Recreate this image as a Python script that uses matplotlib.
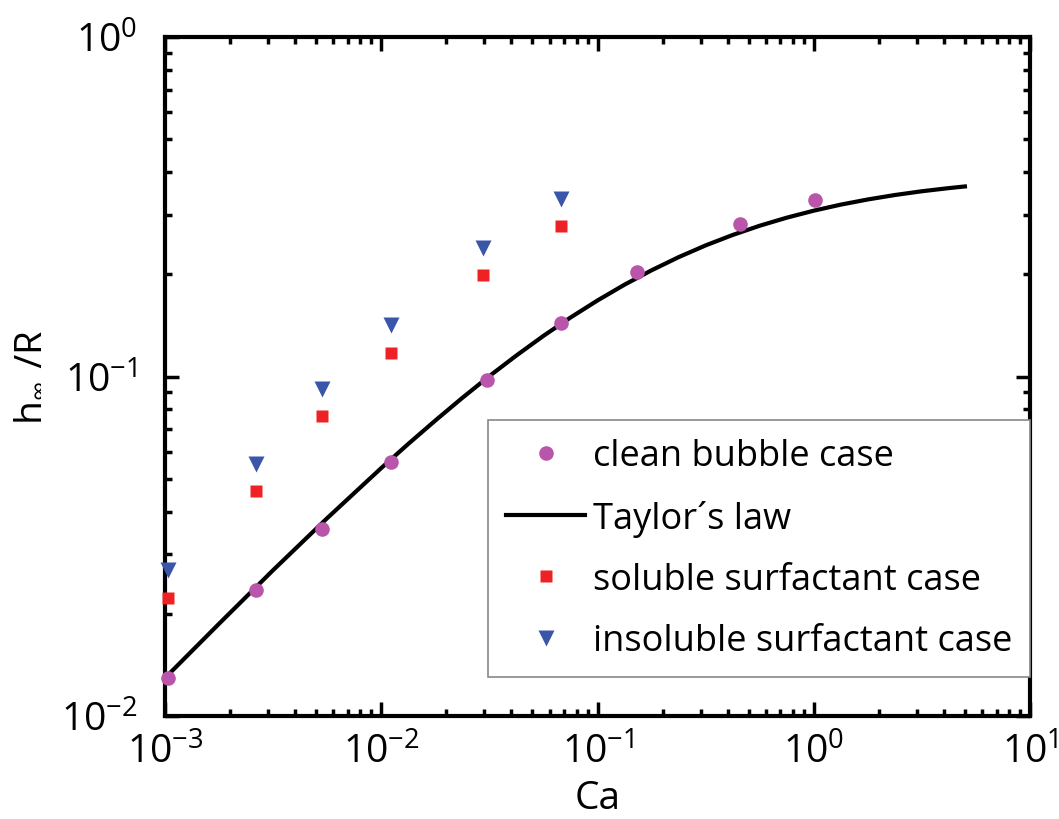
import matplotlib
matplotlib.use("Agg")
import matplotlib.pyplot as plt
from matplotlib.ticker import LogLocator, FixedLocator, NullFormatter

plt.rcParams['font.family'] = ['Open Sans', 'DejaVu Sans']
plt.rcParams['mathtext.fontset'] = 'custom'
plt.rcParams['mathtext.rm'] = 'Open Sans'
plt.rcParams['mathtext.it'] = 'Open Sans'
plt.rcParams['mathtext.bf'] = 'Open Sans'

# clean bubble case
ca_clean = [1.03e-3, 2.63e-3, 5.3e-3, 1.11e-2, 3.08e-2, 6.78e-2, 0.152, 0.456, 1.01]
h_clean = [0.0129, 0.0235, 0.0356, 0.056, 0.0977, 0.144, 0.203, 0.281, 0.331]

# soluble surfactant case
ca_sol = [1.03e-3, 2.63e-3, 5.3e-3, 1.11e-2, 2.95e-2, 6.78e-2]
h_sol = [0.0223, 0.046, 0.0765, 0.117, 0.199, 0.278]

# insoluble surfactant case
ca_insol = [1.03e-3, 2.63e-3, 5.3e-3, 1.11e-2, 2.95e-2, 6.78e-2]
h_insol = [0.0269, 0.0552, 0.0919, 0.142, 0.239, 0.333]

# Taylor's law curve
ca_taylor = [1.0e-3, 1.78e-3, 3.16e-3, 5.62e-3, 1.0e-2, 1.3335e-2, 1.78e-2, 2.3714e-2,
             3.16e-2, 4.217e-2, 5.62e-2, 7.4989e-2, 0.1, 0.13335, 0.178, 0.23714,
             0.316, 0.4217, 0.562, 0.74989, 1.0, 1.33352, 1.78, 2.37137, 3.16, 4.217, 5.0]
h_taylor = [0.01294, 0.01871, 0.02688, 0.03825, 0.05374, 0.06331, 0.07422, 0.08652,
            0.10023, 0.11532, 0.13169, 0.14916, 0.16749, 0.18641, 0.20558, 0.22464,
            0.24326, 0.26113, 0.27798, 0.29362, 0.30791, 0.32081, 0.33230, 0.34241,
            0.35124, 0.35888, 0.36288]

legend_labels = ['clean bubble case', 'Taylor\u00b4s law', 'soluble surfactant case',
                 'insoluble surfactant case']

fig = plt.figure(figsize=(10.59, 8.2), dpi=100)
ax = fig.add_axes([165/1059, 1-717/820, (1030-165)/1059, (717-38)/820])

ax.set_xscale('log')
ax.set_yscale('log')
ax.set_xlim(1e-3, 1e1)
ax.set_ylim(1e-2, 1e0)

ax.plot(ca_clean, h_clean, 'o', color='#B955AA', ms=10.5, mec='none',
        label=legend_labels[0], clip_on=False, zorder=4)
ax.plot(ca_taylor, h_taylor, '-', color='black', lw=3, label=legend_labels[1],
        zorder=3, solid_joinstyle='round')
ax.plot(ca_sol, h_sol, 's', color='#EE2224', ms=9, mec='none',
        label=legend_labels[2], clip_on=False, zorder=4)
ax.plot(ca_insol, h_insol, 'v', color='#3A56AA', ms=11, mec='none',
        label=legend_labels[3], clip_on=False, zorder=4)

for s in ax.spines.values():
    s.set_linewidth(3)

xt = [1e-3, 1e-2, 1e-1, 1e0, 1e1]
yt = [1e-2, 1e-1, 1e0]
ax.xaxis.set_major_locator(FixedLocator(xt))
ax.yaxis.set_major_locator(FixedLocator(yt))
ax.xaxis.set_minor_locator(LogLocator(base=10, subs=range(2, 10), numticks=20))
ax.yaxis.set_minor_locator(LogLocator(base=10, subs=range(2, 10), numticks=20))
ax.xaxis.set_minor_formatter(NullFormatter())
ax.yaxis.set_minor_formatter(NullFormatter())

ax.set_xticklabels([r'$\mathregular{10^{-3}}$', r'$\mathregular{10^{-2}}$',
                    r'$\mathregular{10^{-1}}$', r'$\mathregular{10^{0}}$',
                    r'$\mathregular{10^{1}}$'])
ax.set_yticklabels([r'$\mathregular{10^{-2}}$', r'$\mathregular{10^{-1}}$',
                    r'$\mathregular{10^{0}}$'])

ax.tick_params(which='both', direction='in', top=True, right=True, labelsize=28)
ax.tick_params(which='major', length=10, width=2.5, pad=12)
ax.tick_params(axis='y', which='major', pad=20)
ax.tick_params(which='minor', length=5, width=2.5)

ax.set_xlabel('Ca', fontsize=28)
ax.set_ylabel(r'$\mathregular{h_{\infty}\ /R}$', fontsize=28)
ax.xaxis.set_label_coords(0.5, -0.093)
ax.yaxis.set_label_coords(-0.137, 0.5)

leg = ax.legend(loc='lower right', bbox_to_anchor=(1.0, 0.057), fontsize=26,
                fancybox=False, framealpha=1, edgecolor='#888888',
                handlelength=2.2, handletextpad=0.2, labelspacing=0.7,
                borderpad=0.5, borderaxespad=0.0)
leg.get_frame().set_linewidth(1.2)

fig.savefig('out.png', dpi=100)
